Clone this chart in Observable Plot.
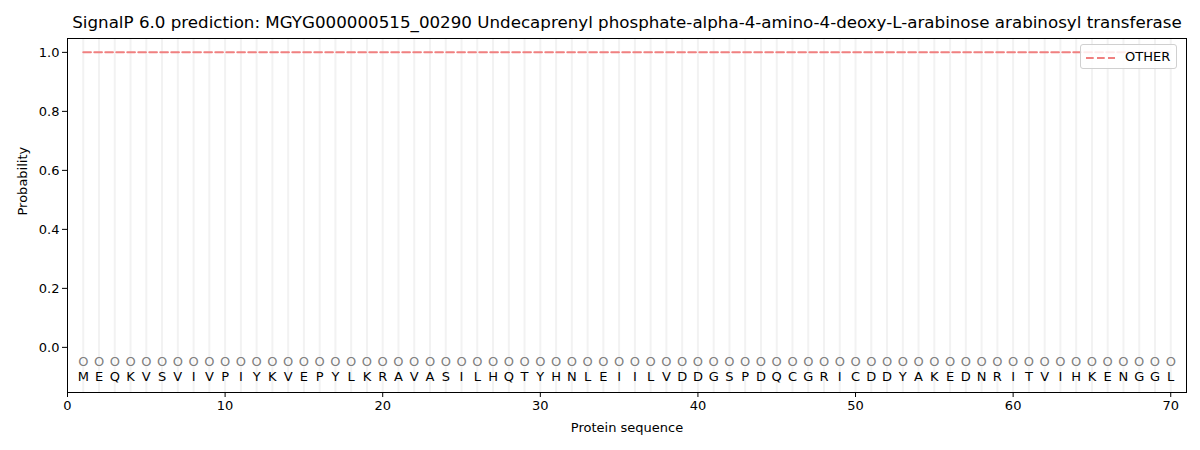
<!DOCTYPE html>
<html>
<head>
<meta charset="utf-8">
<script src="https://cdn.jsdelivr.net/npm/d3@7"></script>
<script src="https://cdn.jsdelivr.net/npm/@observablehq/plot@0.6"></script>
<style>
  body { margin: 0; background: #fff; font-family: "DejaVu Sans", sans-serif; }
  #chart { position: relative; width: 1200px; height: 450px; }
  .legend {
    position: absolute; left: 1080px; top: 44px; width: 97px; height: 25px;
    border: 1px solid #d0d0d0; border-radius: 3px; background: rgba(255,255,255,0.85);
    box-sizing: border-box; font-size: 13px; color: #000;
  }
  .legend svg { position: absolute; left: 4px; top: 11px; }
  .legend span { position: absolute; left: 44px; top: 4px; }
</style>
</head>
<body>
<div id="chart"></div>
<script>
const title = "SignalP 6.0 prediction: MGYG000000515_00290 Undecaprenyl phosphate-alpha-4-amino-4-deoxy-L-arabinose arabinosyl transferase";
const sequence = "MEQKVSVIVPIYKVEPYLKRAVASILHQTYHNLEIILVDDGSPDQCGRICDDYAKEDNRITVIHKENGGL".split("");
const predicted = "OOOOOOOOOOOOOOOOOOOOOOOOOOOOOOOOOOOOOOOOOOOOOOOOOOOOOOOOOOOOOOOOOOOOOO".split("");
const otherProb = [
  1, 1, 1, 1, 1, 1, 1, 1, 1, 1, 1, 1, 1, 1, 1, 1, 1, 1, 1, 1,
  1, 1, 1, 1, 1, 1, 1, 1, 1, 1, 1, 1, 1, 1, 1, 1, 1, 1, 1, 1,
  1, 1, 1, 1, 1, 1, 1, 1, 1, 1, 1, 1, 1, 1, 1, 1, 1, 1, 1, 1,
  1, 1, 1, 1, 1, 1, 1, 1, 1, 1
];
const xTicks = [0, 10, 20, 30, 40, 50, 60, 70];
const yTicks = [0, 0.2, 0.4, 0.6, 0.8, 1.0];

const rows = sequence.map((aa, i) => ({pos: i + 1, aa, label: predicted[i], other: otherProb[i]}));

const plot = Plot.plot({
  width: 1200,
  height: 450,
  marginLeft: 67,
  marginRight: 14,
  marginTop: 38,
  marginBottom: 58,
  style: {fontFamily: "DejaVu Sans, sans-serif", background: "#fff"},
  x: {domain: [0, 71]},
  y: {domain: [-0.153, 1.047]},
  marks: [
    Plot.ruleX(rows, {x: "pos", stroke: "#f2f2f2", strokeWidth: 2}),
    Plot.line(rows, {x: "pos", y: "other", stroke: "#f08080", strokeWidth: 2, strokeDasharray: "7.7,3.3"}),
    Plot.text(rows, {x: "pos", y: -0.05, text: "label", fill: "#808080", fontSize: 13}),
    Plot.text(rows, {x: "pos", y: -0.1, text: "aa", fill: "#000", fontSize: 13}),
    Plot.frame({stroke: "#000"}),
    Plot.axisX({ticks: xTicks, tickSize: 5, tickPadding: 3, fontSize: 13, label: null, tickFormat: d3.format("d")}),
    Plot.axisY({ticks: yTicks, tickSize: 5, tickPadding: 3, fontSize: 13, label: null, tickFormat: d3.format(".1f")}),
    Plot.text([title], {frameAnchor: "top", lineAnchor: "middle", dy: -16, fontSize: 16.7, fill: "#000"}),
    Plot.text(["Protein sequence"], {frameAnchor: "bottom", lineAnchor: "middle", dy: 35, fontSize: 13, fill: "#000"}),
    Plot.text(["Probability"], {frameAnchor: "left", dx: -45, rotate: -90, fontSize: 13, fill: "#000"})
  ]
});

const chart = document.querySelector("#chart");
chart.append(plot);

// legend box
const legend = document.createElement("div");
legend.className = "legend";
legend.innerHTML = `<svg width="32" height="4"><line x1="1" y1="2" x2="30" y2="2" stroke="#f08080" stroke-width="2" stroke-dasharray="7.7,3.3"/></svg><span>OTHER</span>`;
chart.append(legend);
</script>
</body>
</html>
